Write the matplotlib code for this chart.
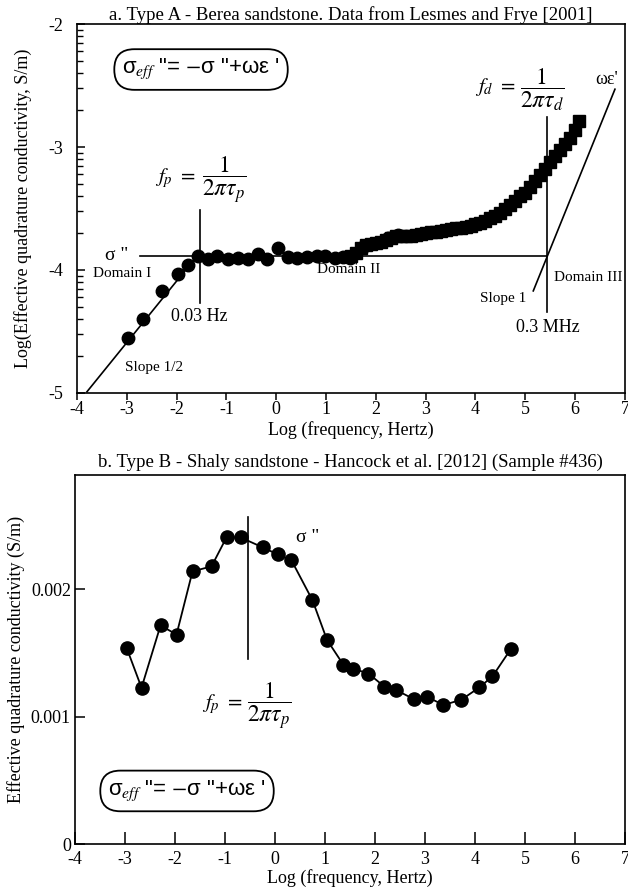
import numpy as np
import matplotlib.pyplot as plt

plt.rcParams['font.family'] = ['Liberation Serif', 'DejaVu Serif']
plt.rcParams['mathtext.fontset'] = 'stix'
plt.rcParams['axes.unicode_minus'] = False

# ---- panel a: Berea sandstone (log10 of effective quadrature conductivity) ----
circ_x = [-2.98, -2.67, -2.30, -1.97, -1.77, -1.58, -1.36, -1.19, -0.96, -0.76,
          -0.56, -0.36, -0.19, 0.04, 0.24, 0.41, 0.61, 0.81, 0.98, 1.18,
          1.35, 1.48, 1.75, 2.25, 2.45]
circ_y = [-4.555, -4.401, -4.171, -4.035, -3.959, -3.890, -3.913, -3.886, -3.913, -3.905,
          -3.913, -3.872, -3.913, -3.824, -3.897, -3.905, -3.897, -3.886, -3.886, -3.905,
          -3.892, -3.905, -3.811, -3.742, -3.715]

sq_x = [1.5, 1.6, 1.7, 1.8, 1.9, 2.0, 2.1, 2.2, 2.3, 2.4, 2.5, 2.6, 2.7, 2.8, 2.9,
        3.0, 3.1, 3.2, 3.3, 3.4, 3.5, 3.6, 3.7, 3.8, 3.9, 4.0, 4.1, 4.2, 4.3, 4.4,
        4.5, 4.6, 4.7, 4.8, 4.9, 5.0, 5.1, 5.2, 5.3, 5.4, 5.5, 5.6, 5.7, 5.8, 5.9,
        6.0, 6.07]
sq_y = [-3.89, -3.86, -3.82, -3.80, -3.79, -3.78, -3.77, -3.755, -3.74, -3.725,
        -3.72, -3.72, -3.72, -3.715, -3.71, -3.70, -3.695, -3.69, -3.683, -3.676,
        -3.67, -3.662, -3.656, -3.65, -3.64, -3.63, -3.615, -3.598, -3.58, -3.558,
        -3.533, -3.503, -3.47, -3.436, -3.40, -3.37, -3.326, -3.275, -3.228, -3.175,
        -3.123, -3.072, -3.024, -2.972, -2.925, -2.86, -2.79]

sigma_level = -3.89          # sigma'' plateau
fp_log = -1.53               # 0.03 Hz
fd_log = 5.44                # 0.3 MHz
slope_half_x = [-3.8, -1.6]
slope_one_x = [5.16, 6.80]

# ---- panel b: shaly sandstone (S/m) ----
b_x = [-2.97, -2.67, -2.29, -1.97, -1.65, -1.27, -0.97, -0.69, -0.25, 0.05,
       0.33, 0.75, 1.04, 1.37, 1.56, 1.87, 2.19, 2.42, 2.79, 3.04,
       3.37, 3.73, 4.09, 4.35, 4.72]
b_y = np.array([1.543, 1.228, 1.717, 1.646, 2.142, 2.181, 2.409, 2.409, 2.331, 2.276,
                2.228, 1.915, 1.604, 1.407, 1.378, 1.339, 1.236, 1.210, 1.136, 1.157,
                1.092, 1.134, 1.231, 1.317, 1.533]) * 1e-3
b_fp_log = -0.55

xticks = list(range(-4, 8))

fig = plt.figure(figsize=(6.28, 8.96), dpi=100)
ax1 = fig.add_axes([0.1226, 0.5614, 0.8725, 0.4118])
ax2 = fig.add_axes([0.1195, 0.058, 0.8756, 0.412])

box = dict(boxstyle='round,pad=0.35,rounding_size=0.9', fc='white', ec='black', lw=1.3)
eq = r'$\mathregular{\sigma_{\mathit{eff}}}$ "= $-$σ "+ωε ' + "'"

# ---------- panel a ----------
ax1.plot(circ_x, circ_y, 'o', color='black', ms=9, zorder=3)
ax1.plot(sq_x, sq_y, 's', color='black', ms=8, zorder=3)
ax1.plot([-2.73, fd_log], [sigma_level, sigma_level], color='black', lw=1.2)
ax1.plot(slope_half_x, [sigma_level + 0.5 * (x + 1.6) for x in slope_half_x],
         color='black', lw=1.2)
ax1.plot(slope_one_x, [sigma_level + (x - fd_log) for x in slope_one_x],
         color='black', lw=1.2)
ax1.plot([fp_log, fp_log], [-3.51, -4.27], color='black', lw=1.2)
ax1.plot([fd_log, fd_log], [-2.76, -4.34], color='black', lw=1.2)

ax1.text(-1.51, -2.37, eq, fontsize=16, family=['Liberation Sans', 'DejaVu Sans'],
         ha='center', va='center', bbox=box)
ax1.text(-1.63, -3.25, r'$f_p\ =$', fontsize=15, ha='right', va='center')
ax1.text(-1.49, -3.27, r'$\dfrac{1}{2\pi\tau_p}$', fontsize=17, ha='left', va='center')
ax1.text(4.80, -2.51, r'$f_d\ =$', fontsize=15, ha='right', va='center')
ax1.text(4.90, -2.53, r'$\dfrac{1}{2\pi\tau_d}$', fontsize=17, ha='left', va='center')
ax1.text(-3.2, -3.88, 'σ "', fontsize=14, ha='center', va='center')
ax1.text(-3.1, -4.03, 'Domain I', fontsize=11, ha='center', va='center')
ax1.text(-1.55, -4.38, '0.03 Hz', fontsize=13, ha='center', va='center')
ax1.text(-2.45, -4.79, 'Slope 1/2', fontsize=11, ha='center', va='center')
ax1.text(1.45, -4.0, 'Domain II', fontsize=11, ha='center', va='center')
ax1.text(6.26, -4.06, 'Domain III', fontsize=11, ha='center', va='center')
ax1.text(4.55, -4.23, 'Slope 1', fontsize=11, ha='center', va='center')
ax1.text(5.45, -4.47, '0.3 MHz', fontsize=13, ha='center', va='center')
ax1.text(6.64, -2.45, "ωε'", fontsize=13, ha='center', va='center')

ax1.set_xlim(-4, 7)
ax1.set_ylim(-5, -2)
ax1.set_xticks(xticks)
ax1.set_xticklabels([str(t) for t in xticks])
ax1.set_yticks([-5, -4, -3, -2])
ax1.set_yticklabels(['-5', '-4', '-3', '-2'])
minor = [n + np.log10(k) for n in (-5, -4, -3) for k in range(2, 10)]
ax1.set_yticks(minor, minor=True)
ax1.tick_params(axis='y', which='major', direction='in', length=6, width=1.1,
                labelsize=13, pad=10)
ax1.tick_params(axis='y', which='minor', direction='in', length=4.5, width=1.0)
ax1.tick_params(axis='x', direction='out', length=5, width=1.1, labelsize=13, pad=1)
ax1.set_xlabel('Log (frequency, Hertz)', fontsize=13, labelpad=2)
ax1.set_ylabel('Log(Effective quadrature conductivity, S/m)', fontsize=13, labelpad=12)
ax1.set_title('a. Type A - Berea sandstone. Data from Lesmes and Frye [2001]',
              fontsize=13.5, pad=3)

# ---------- panel b ----------
ax2.plot(b_x, b_y, '-o', color='black', ms=9.5, lw=1.3)
ax2.plot([b_fp_log, b_fp_log], [0.00257, 0.00145], color='black', lw=1.2)
ax2.text(0.66, 0.00241, 'σ "', fontsize=14, ha='center', va='center')
ax2.text(-0.66, 0.00110, r'$f_p\ =$', fontsize=15, ha='right', va='center')
ax2.text(-0.56, 0.00108, r'$\dfrac{1}{2\pi\tau_p}$', fontsize=17, ha='left', va='center')
ax2.text(-1.76, 0.000417, eq, fontsize=16, family=['Liberation Sans', 'DejaVu Sans'],
         ha='center', va='center', bbox=box)

ax2.set_xlim(-4, 7)
ax2.set_ylim(0, 0.0029)
ax2.set_xticks(xticks)
ax2.set_xticklabels([str(t) for t in xticks])
ax2.set_yticks([0, 0.001, 0.002])
ax2.set_yticklabels(['0', '0.001', '0.002'])
ax2.tick_params(axis='x', direction='in', length=9, width=1.1, labelsize=13, pad=5)
ax2.tick_params(axis='y', direction='in', length=7, width=1.1, labelsize=13, pad=3)
ax2.set_xlabel('Log (frequency, Hertz)', fontsize=13, labelpad=1)
ax2.set_ylabel('Effective quadrature conductivity (S/m)', fontsize=13, labelpad=4)
ax2.set_title('b. Type B - Shaly sandstone - Hancock et al. [2012] (Sample #436)',
              fontsize=13.5, pad=6)

for ax in (ax1, ax2):
    for s in ax.spines.values():
        s.set_linewidth(1.2)

fig.savefig('out.png', dpi=100)
